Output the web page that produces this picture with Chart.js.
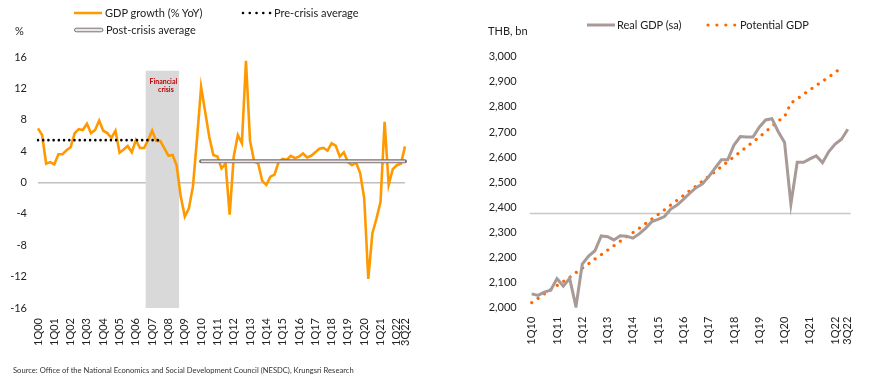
<!DOCTYPE html>
<html><head><meta charset="utf-8">
<script src="https://cdn.jsdelivr.net/npm/chart.js@4.4.0/dist/chart.umd.min.js"></script>
<style>
html,body{margin:0;padding:0;background:#fff;}
body{width:870px;height:382px;overflow:hidden;position:relative;font-family:Lato,'Open Sans',sans-serif;color:#222;}
.t{position:absolute;white-space:nowrap;font-size:11px;line-height:12px;}
canvas{position:absolute;top:0;}
svg{position:absolute;overflow:visible;}
</style></head><body>
<canvas id="c1" width="435" height="382" style="left:0;width:435px;height:382px"></canvas>
<canvas id="c2" width="435" height="382" style="left:435px;width:435px;height:382px"></canvas>

<svg style="left:74px;top:8px" width="30" height="10"><line x1="0" y1="5" x2="28" y2="5" stroke="#ff9900" stroke-width="2.5"/></svg>
<div class="t" style="left:105px;top:7px">GDP growth (% YoY)</div>
<svg style="left:242px;top:8px" width="32" height="10"><line x1="1" y1="5" x2="28.5" y2="5" stroke="#000" stroke-width="2.6" stroke-linecap="round" stroke-dasharray="0.01 6.75"/></svg>
<div class="t" style="left:274px;top:7px">Pre-crisis average</div>
<svg style="left:74px;top:25px" width="32" height="10"><rect x="0.5" y="3.2" width="28.5" height="3.6" rx="1.8" ry="1.8" fill="#ebe7e7" stroke="#7a7171" stroke-width="1"/></svg>
<div class="t" style="left:106px;top:24px">Post-crisis average</div>
<div class="t" style="left:15px;top:25px">%</div>

<div class="t" style="left:488px;top:25px">THB, bn</div>
<svg style="left:587px;top:20px" width="30" height="10"><line x1="0" y1="5" x2="28" y2="5" stroke="#a89a96" stroke-width="3"/></svg>
<div class="t" style="left:617px;top:19px">Real GDP (sa)</div>
<svg style="left:706px;top:20px" width="32" height="10"><line x1="2" y1="5" x2="29" y2="5" stroke="#ff6600" stroke-width="3.2" stroke-linecap="round" stroke-dasharray="0.01 8.9"/></svg>
<div class="t" style="left:740px;top:19px">Potential GDP</div>

<div class="t" style="left:13px;top:365px;font-size:7.6px;line-height:10px;color:#333">Source: Office of the National Economics and Social Development Council (NESDC), Krungsri Research</div>

<script>
// ---------- DATA ----------
function quarterLabels(startYear, endYear, endQ){
  const out=[];
  for(let y=startYear;y<=endYear;y++){
    for(let q=1;q<=4;q++){
      if(y===endYear && q>endQ) break;
      out.push(q+'Q'+String(y%100).padStart(2,'0'));
    }
  }
  return out;
}
const quartersLeft = quarterLabels(2000,2022,3);   // 1Q00 .. 3Q22
const quartersRight = quarterLabels(2010,2022,3);  // 1Q10 .. 3Q22

const leftTickLabels = ['1Q00','1Q01','1Q02','1Q03','1Q04','1Q05','1Q06','1Q07','1Q08','1Q09','1Q10','1Q11','1Q12','1Q13','1Q14','1Q15','1Q16','1Q17','1Q18','1Q19','1Q20','1Q21','1Q22','3Q22'];
const rightTickLabels = ['1Q10','1Q11','1Q12','1Q13','1Q14','1Q15','1Q16','1Q17','1Q18','1Q19','1Q20','1Q21','1Q22','3Q22'];

// GDP growth, % YoY (1Q00 .. 3Q22)
const gdpGrowth = [
  6.9, 6.05, 2.4, 2.6, 2.3, 3.6, 3.6, 4.1, 4.5, 6.3,
  6.8, 6.7, 7.5, 6.3, 6.7, 7.9, 6.6, 6.3, 5.7, 6.6,
  3.8, 4.2, 4.65, 3.85, 5.4, 4.4, 4.4, 5.4, 6.6, 5.3,
  5.3, 4.35, 3.4, 3.5, 2.2, -1.8, -4.35, -3.3, -0.5, 5.6,
  12.2, 9.0, 5.8, 3.5, 3.3, 1.8, 2.4, -4.1, 3.3, 6.05,
  5.0, 15.5, 5.3, 2.7, 2.4, 0.2, -0.3, 0.75, 1.0, 2.6,
  3.0, 2.9, 3.4, 3.1, 3.3, 3.7, 3.2, 3.4, 3.85, 4.3,
  4.4, 4.05, 5.0, 4.7, 3.3, 3.85, 2.6, 2.2, 2.55, 1.2,
  -2.0, -12.3, -6.5, -4.6, -2.45, 7.75, -0.3, 1.7, 2.2, 2.4,
  4.6
];
const preCrisisAvg = 5.4, preCrisisFrom = '1Q00', preCrisisTo = '3Q07';
const postCrisisAvg = 2.7, postCrisisFrom = '1Q10', postCrisisTo = '3Q22';
const crisisFrom = '4Q06', crisisTo = '3Q08', crisisTop = 14.2, crisisBottom = -16;

// Real GDP (sa) and potential GDP, THB bn (1Q10 .. 3Q22)
const realGdp = [
  2055, 2049, 2062, 2070, 2116, 2086, 2117, 2004, 2174, 2206,
  2227, 2286, 2283, 2270, 2287, 2285, 2277, 2294, 2316, 2343,
  2352, 2363, 2393, 2409, 2432, 2456, 2478, 2493, 2522, 2556,
  2589, 2589, 2648, 2682, 2680, 2680, 2719, 2748, 2753, 2701,
  2658, 2413, 2579, 2579, 2593, 2605, 2578, 2622, 2652, 2671,
  2711
];
const potentialGdp = [
  2020, 2037, 2055, 2072, 2088, 2104, 2121, 2140, 2157, 2175,
  2194, 2211, 2229, 2247, 2265, 2282, 2299, 2316, 2335, 2353,
  2371, 2390, 2409, 2428, 2447, 2466, 2485, 2504, 2523, 2542,
  2562, 2582, 2601, 2621, 2641, 2660, 2680, 2701, 2722, 2744,
  2761, 2815, 2832, 2850, 2868, 2885, 2902, 2919, 2938, 2955,
  null
];
const refLineValue = 2375;

// ---------- BUILD ----------
function spanSeries(labels, from, to, value){
  const a = labels.indexOf(from), b = labels.indexOf(to);
  return labels.map((_,i)=> (i>=a && i<=b) ? value : null);
}
const preSeries = spanSeries(quartersLeft, preCrisisFrom, preCrisisTo, preCrisisAvg);
const postSeries = spanSeries(quartersLeft, postCrisisFrom, postCrisisTo, postCrisisAvg);
const crisisSeries = spanSeries(quartersLeft, crisisFrom, crisisTo, [crisisBottom, crisisTop]);

const FONT = 'Lato';
const TXT = '#222';

const crisisLabel = {
  id:'crisisLabel',
  afterDatasetsDraw(chart){
    const xs = chart.scales.x, ys = chart.scales.y, ctx = chart.ctx;
    const cx = (xs.getPixelForValue(quartersLeft.indexOf(crisisFrom)) + xs.getPixelForValue(quartersLeft.indexOf(crisisTo)))/2;
    const top = ys.getPixelForValue(crisisTop);
    ctx.save();
    ctx.font = 'bold 7px '+FONT;
    ctx.fillStyle = '#c00000';
    ctx.textAlign = 'center';
    ctx.textBaseline = 'middle';
    ctx.fillText('Financial', cx+1, top+10.7);
    ctx.fillText('crisis', cx+3.5, top+19);
    ctx.restore();
  }
};

const refLine = {
  id:'refLine',
  beforeDatasetsDraw(chart){
    const ys = chart.scales.y, ctx = chart.ctx, a = chart.chartArea;
    const y = ys.getPixelForValue(refLineValue);
    ctx.save();
    ctx.strokeStyle = '#c8c8c8';
    ctx.lineWidth = 1.5;
    ctx.beginPath(); ctx.moveTo(a.left-2, y); ctx.lineTo(a.right+3, y); ctx.stroke();
    ctx.restore();
  }
};

function xTicks(list, pad){
  return {
    autoSkip:false, maxRotation:90, minRotation:90, padding:pad,
    font:{family:FONT,size:11}, color:TXT,
    callback:function(v){ const l = this.getLabelForValue(v); return list.includes(l) ? l : ''; }
  };
}

function build(){
  Chart.defaults.font.family = FONT;
  new Chart(document.getElementById('c1'), {
    type:'line',
    data:{labels:quartersLeft, datasets:[
      {type:'bar', data:crisisSeries, backgroundColor:'#d9d9d9', borderWidth:0, barPercentage:1, categoryPercentage:1, inflateAmount:0.4, order:10},
      {data:gdpGrowth, borderColor:'#ff9900', borderWidth:2.6, pointRadius:0, tension:0, order:5},
      {data:postSeries, borderColor:'#7a7171', borderWidth:4, pointRadius:0, borderCapStyle:'round', order:3},
      {data:postSeries, borderColor:'#ebe7e7', borderWidth:1.8, pointRadius:0, order:2},
      {data:preSeries, borderColor:'#000', borderWidth:2.6, borderDash:[0.01,5.2], borderCapStyle:'round', pointRadius:0, order:1}
    ]},
    options:{
      responsive:false, animation:false, devicePixelRatio:1,
      layout:{padding:{left:0,right:30,top:57,bottom:24}},
      plugins:{legend:{display:false}, tooltip:{enabled:false}},
      scales:{
        x:{type:'category', offset:false, grid:{display:false,drawTicks:false}, border:{display:false},
           ticks:xTicks(leftTickLabels,10), afterFit:s=>{s.height=50;}},
        y:{min:-16,max:16, border:{display:false},
           grid:{drawTicks:false, lineWidth:1.5, color:c=> c.tick && c.tick.value===0 ? '#c0c0c0' : 'rgba(0,0,0,0)'},
           ticks:{stepSize:4, padding:11, font:{family:FONT,size:11}, color:TXT},
           afterFit:s=>{s.width=38;}}
      }
    },
    plugins:[crisisLabel]
  });

  new Chart(document.getElementById('c2'), {
    type:'line',
    data:{labels:quartersRight, datasets:[
      {data:realGdp, borderColor:'#a89a96', borderWidth:3, pointRadius:0, tension:0, order:1},
      {data:potentialGdp, borderColor:'#ff6600', borderWidth:3.2, borderDash:[0.01,7.7], borderCapStyle:'round', pointRadius:0, order:2}
    ]},
    options:{
      responsive:false, animation:false, devicePixelRatio:1,
      layout:{padding:{left:0,right:22,top:56.7,bottom:24.3}},
      plugins:{legend:{display:false}, tooltip:{enabled:false}},
      scales:{
        x:{type:'category', offset:false, grid:{display:false,drawTicks:false}, border:{display:false},
           ticks:xTicks(rightTickLabels,9), afterFit:s=>{s.height=50;}},
        y:{min:2000,max:3000, border:{display:false}, grid:{display:false,drawTicks:false},
           ticks:{stepSize:100, padding:15, font:{family:FONT,size:11}, color:TXT,
                  callback:v=>Number(v).toLocaleString('en-US')},
           afterFit:s=>{s.width=96.7;}}
      }
    },
    plugins:[refLine]
  });
}
if (document.fonts && document.fonts.load) {
  Promise.all([document.fonts.load('11px Lato'), document.fonts.load('bold 7px Lato')]).then(build, build);
} else build();
</script>
</body></html>
